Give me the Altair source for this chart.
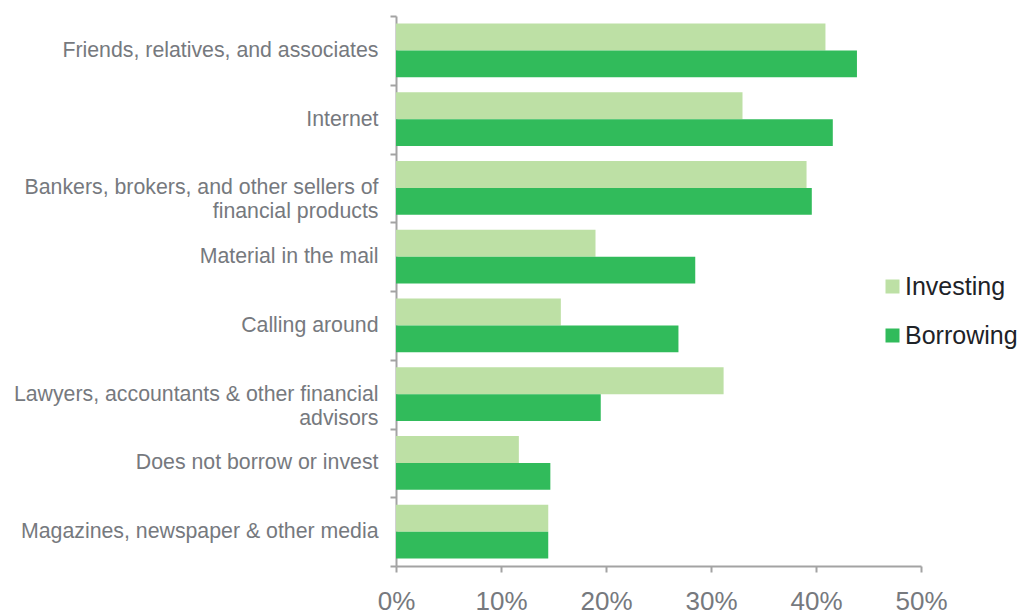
import altair as alt
import pandas as pd

categories = [
    "Friends, relatives, and associates",
    "Internet",
    "Bankers, brokers, and other sellers of financial products",
    "Material in the mail",
    "Calling around",
    "Lawyers, accountants & other financial advisors",
    "Does not borrow or invest",
    "Magazines, newspaper & other media",
]
investing = [40.9, 33.0, 39.1, 19.0, 15.7, 31.2, 11.7, 14.5]
borrowing = [43.9, 41.6, 39.6, 28.5, 26.9, 19.5, 14.7, 14.5]
series = ["Investing", "Borrowing"]
colors = ["#bde0a5", "#31bb5b"]
x_ticks = [0, 0.1, 0.2, 0.3, 0.4, 0.5]
label_lines = {
    "Bankers, brokers, and other sellers of financial products": [
        "Bankers, brokers, and other sellers of", "financial products"],
    "Lawyers, accountants & other financial advisors": [
        "Lawyers, accountants & other financial", "advisors"],
}

rows = []
for c, i, b in zip(categories, investing, borrowing):
    rows.append({"category": c, "series": "Investing", "value": i / 100})
    rows.append({"category": c, "series": "Borrowing", "value": b / 100})
df = pd.DataFrame(rows)

expr = "datum.label"
for k, v in label_lines.items():
    arr = "[" + ", ".join("'" + s + "'" for s in v) + "]"
    expr = f"datum.value == '{k}' ? {arr} : ({expr})"

axis_gray = "#a3a3a3"
label_gray = "#76797e"

chart = alt.Chart(df).mark_bar().encode(
    x=alt.X(
        "value:Q",
        scale=alt.Scale(domain=[0, 0.5], nice=False),
        axis=alt.Axis(
            format=".0%", values=x_ticks, title=None, grid=False,
            labelFontSize=26, labelColor=label_gray, tickSize=6,
            labelPadding=16, labelFlush=False, domainColor=axis_gray,
            domainWidth=2, tickColor=axis_gray, tickWidth=2,
        ),
    ),
    y=alt.Y(
        "category:N", sort=categories,
        scale=alt.Scale(paddingInner=0, paddingOuter=0),
        axis=alt.Axis(
            title=None, labelFontSize=21.3, labelColor=label_gray,
            labelLimit=420, labelPadding=12, tickSize=6, tickBand="extent",
            labelExpr=expr, labelLineHeight=24,
            domainColor=axis_gray, domainWidth=2,
            tickColor=axis_gray, tickWidth=2,
        ),
    ),
    yOffset=alt.YOffset(
        "series:N", sort=series,
        scale=alt.Scale(paddingOuter=0.285, paddingInner=0),
    ),
    color=alt.Color(
        "series:N", sort=series,
        scale=alt.Scale(domain=series, range=colors),
        legend=alt.Legend(
            orient="none", legendX=484, legendY=258, title=None,
            symbolType="square", symbolSize=196, symbolStrokeWidth=0,
            labelFontSize=25, labelColor="#1e2328", rowPadding=23,
            labelOffset=0, padding=0,
        ),
    ),
).properties(
    width=525, height=550,
    autosize=alt.AutoSizeParams(type="none"),
    padding={"left": 388, "top": 8, "right": 97, "bottom": 46},
).configure(
    font="Liberation Sans",
    view=alt.ViewConfig(strokeWidth=0, stroke="transparent"),
)

chart.save("out.html", embed_options={"renderer": "svg", "actions": False})
